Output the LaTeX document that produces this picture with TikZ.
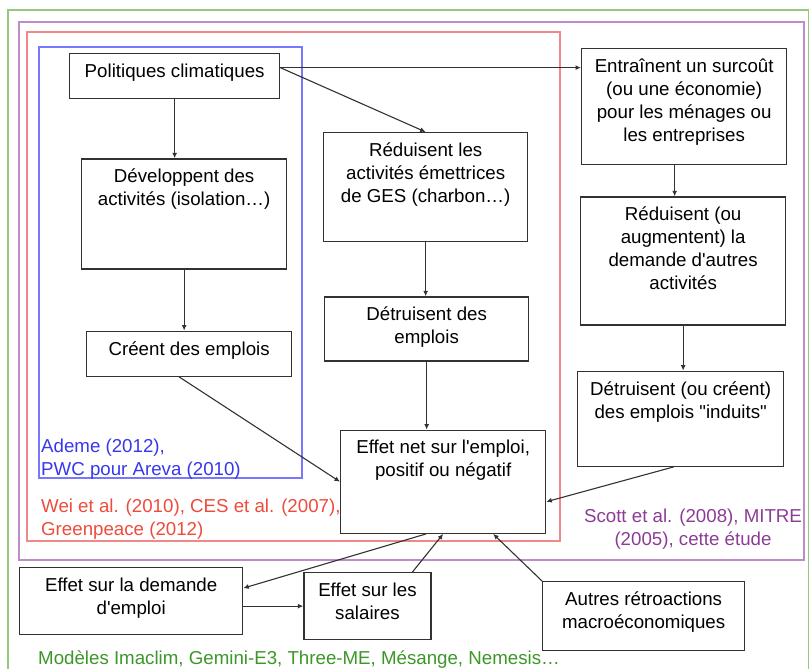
\documentclass[tikz,border=0pt]{standalone}
\usepackage{fontspec}
\setmainfont{Liberation Sans}[Ligatures=TeXOff]
\usetikzlibrary{arrows.meta,positioning}

\definecolor{linec}{RGB}{50,50,50}
\definecolor{gframe}{RGB}{150,200,125}
\definecolor{gtext}{RGB}{60,150,40}
\definecolor{pframe}{RGB}{190,140,200}
\definecolor{ptext}{RGB}{140,60,150}
\definecolor{rframe}{RGB}{242,135,135}
\definecolor{rtext}{RGB}{238,75,60}
\definecolor{bframe}{RGB}{120,120,255}
\definecolor{btext}{RGB}{55,55,235}

\begin{document}
\begin{tikzpicture}[
x=1pt, y=1pt,
font=\fontsize{18.7}{23}\selectfont,
box/.style 2 args={draw=linec, line width=1.3pt, inner xsep=0pt, inner ysep=10pt,
  execute at begin node={\begin{minipage}[t][#2][t]{#1}\centering},
  execute at end node={\end{minipage}}},
arrow/.style={-{Latex[length=5.5pt,width=5pt]}, draw=linec, line width=1.1pt},
frame/.style={line width=1.6pt},
lbl/.style={inner sep=0pt, anchor=north west, align=left}
]
\useasboundingbox (0,0) rectangle (809,-669);

% cadres des etudes
\draw[frame, draw=gframe] (8,-669) -- (8,-10) -- (808.5,-10) -- (808.5,-669);
\draw[frame, draw=pframe] (19,-22) rectangle (804,-560);
\draw[frame, draw=rframe] (27,-32) rectangle (560,-541);
\draw[frame, draw=bframe] (39,-47) rectangle (302,-478);

% colonne de gauche
\node[box={210pt}{25pt}, anchor=north west] (pol) at (69,-53) {Politiques climatiques};
\node[box={205pt}{90pt}, below=59pt of pol, xshift=9.5pt] (dev) {Développent des\\activités (isolation…)};
\node[box={205pt}{25pt}, below=61pt of dev, xshift=5pt] (cree) {Créent des emplois};

% colonne du milieu
\node[box={204pt}{89pt}, anchor=north west] (red) at (323,-132) {Réduisent les\\activités émettrices\\de GES (charbon…)};
\node[box={204pt}{44pt}, below=54pt of red, xshift=1pt] (det) {Détruisent des\\emplois};
\node[box={205pt}{83pt}, below=68pt of det, xshift=16.5pt] (net) {Effet net sur l'emploi,\\positif ou négatif};

% colonne de droite
\node[box={205pt}{96pt}, anchor=north west] (ent) at (581,-48) {Entraînent un surcoût\\(ou une économie)\\pour les ménages ou\\les entreprises};
\node[box={205pt}{108pt}, below=31pt of ent, xshift=-1pt] (aug) {Réduisent (ou\\augmentent) la\\demande d'autres\\activités};
\node[box={206pt}{75pt}, below=45pt of aug, xshift=-2.5pt] (ind) {Détruisent (ou créent)\\des emplois "induits"};

% bouclages
\node[box={223pt}{47pt}, anchor=north west] (dem) at (19,-567) {Effet sur la demande\\d'emploi};
\node[box={127pt}{47pt}, right=60pt of dem, yshift=-5pt] (sal) {Effet sur les\\salaires};
\node[box={202pt}{49pt}, anchor=north west] (aut) at (542,-581) {Autres rétroactions\\macroéconomiques};

% etiquettes
\node[lbl, text=btext] (lademe) at (41,-439) {Ademe (2012),\\PWC pour Areva (2010)};
\node[lbl, text=rtext] (lwei) at (41,-499) {Wei et al. (2010), CES et al. (2007),\\Greenpeace (2012)};
\node[inner sep=0pt, anchor=north, align=center, text=ptext] (lscott) at (693,-509) {Scott et al. (2008), MITRE\\(2005), cette étude};
\node[lbl, text=gtext] (lmod) at (38,-651) {Modèles Imaclim, Gemini-E3, Three-ME, Mésange, Nemesis…};

\coordinate (polout) at ([yshift=8.5pt]pol.east);

\draw[arrow] (polout) -- (polout -| ent.west);
\draw[arrow] (polout) -- (red.north);
\draw[arrow] (pol.south) -- (pol.south |- dev.north);
\draw[arrow] (dev.south) -- (dev.south |- cree.north);
\draw[arrow] (red.south) -- (red.south |- det.north);
\draw[arrow] (det.south) -- (det.south |- net.north);
\draw[arrow] ([xshift=-9.5pt]ent.south) -- ([xshift=-9.5pt]ent.south |- aug.north);
\draw[arrow] (aug.south) -- (aug.south |- ind.north);
\draw[arrow] ([xshift=-10pt]cree.south) -- (net.west);
\draw[arrow] ([xshift=-7pt]ind.south) -- ([yshift=-20pt]net.east);
\draw[arrow] ([xshift=-17pt]net.south) -- ([yshift=13pt]dem.east);
\draw[arrow] (dem.east |- sal.west) -- (sal.west);
\draw[arrow] ([xshift=45pt]sal.north) -- (net.south);
\draw[arrow] (aut.north west) -- ([xshift=50pt]net.south);

\end{tikzpicture}
\end{document}
